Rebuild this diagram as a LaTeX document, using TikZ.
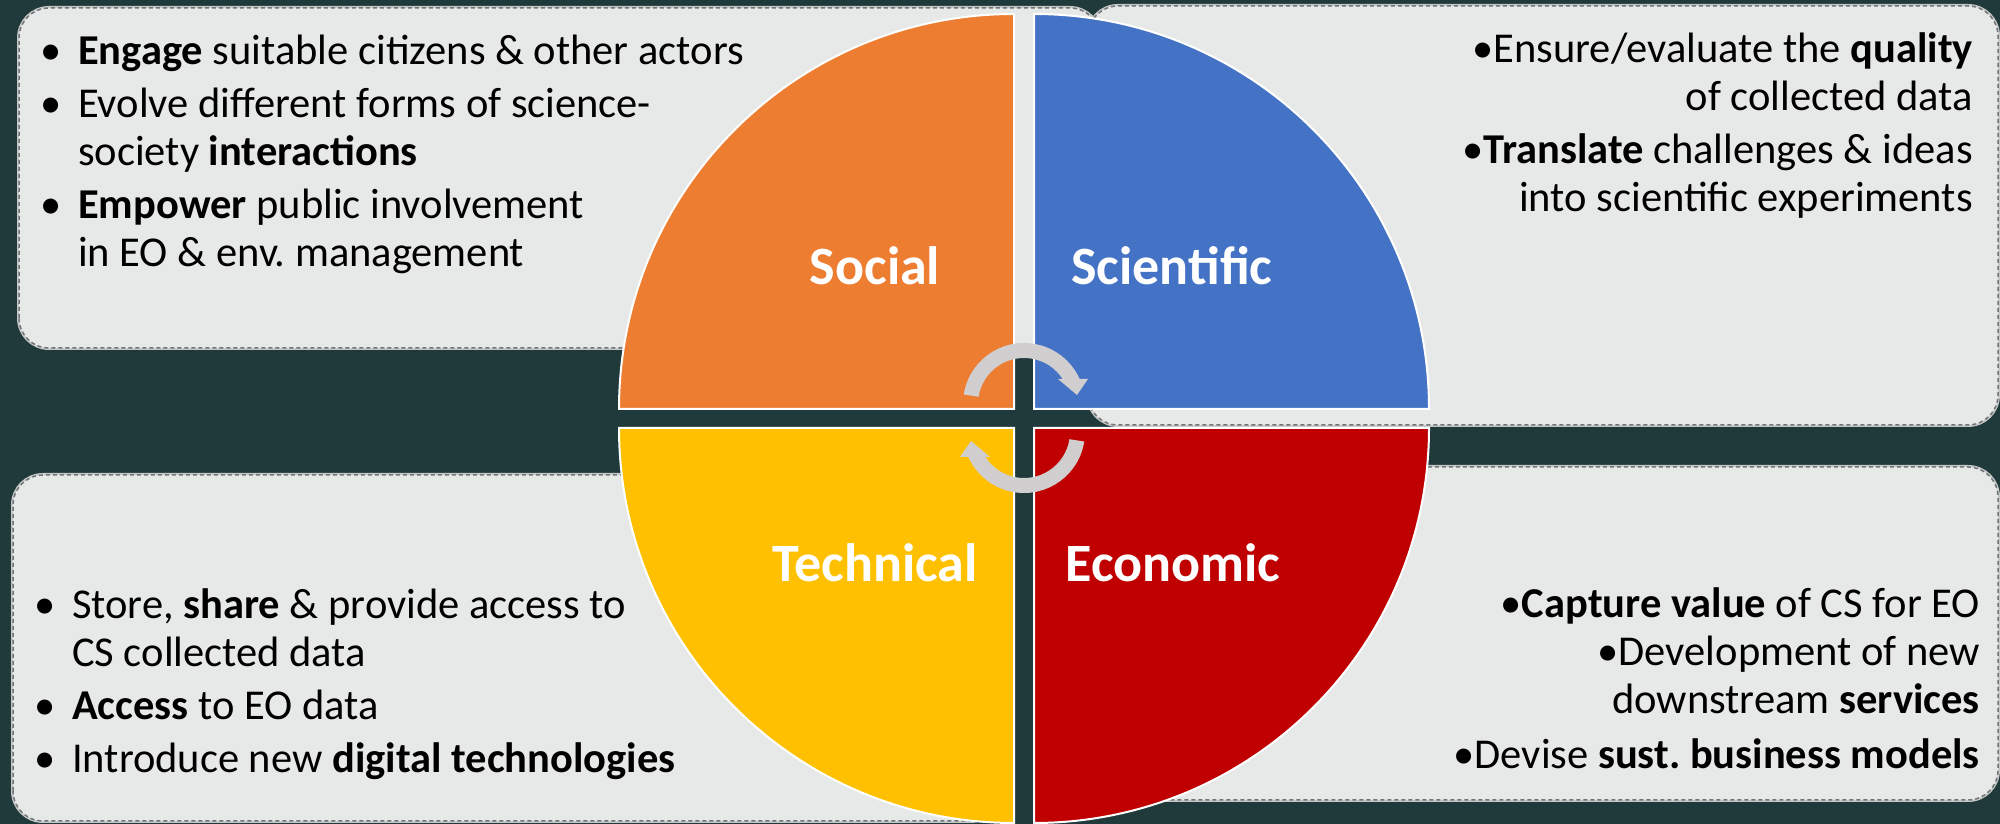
\documentclass[tikz,border=0pt]{standalone}
\usepackage{fontspec}
\setmainfont{Carlito}
\frenchspacing

\definecolor{bgdark}{RGB}{32,57,58}
\definecolor{boxfill}{RGB}{231,232,232}
\definecolor{boxline}{RGB}{110,118,118}
\definecolor{socialcol}{RGB}{237,125,49}
\definecolor{scicol}{RGB}{68,114,196}
\definecolor{techcol}{RGB}{255,192,0}
\definecolor{ecocol}{RGB}{192,0,0}
\definecolor{cyclecol}{RGB}{208,206,206}

\newcommand{\bul}{\makebox[38pt][l]{•}}
\newcommand{\ind}{\hspace*{38pt}}

\tikzset{
  infobox/.style={fill=boxfill, draw=boxline, line width=1.5pt,
    dash pattern=on 4pt off 3pt, rounded corners=30pt,
    preaction={draw=black!22, line width=4pt, solid}},
  sector/.style={draw=white, line width=2pt},
  sectorlabel/.style={text=white, inner sep=0pt, anchor=base,
    font=\fontsize{54}{60}\selectfont\bfseries},
  lefttext/.style={align=left, inner sep=0pt, anchor=base west,
    font=\fontsize{42.5}{48}\selectfont},
  righttext/.style={align=right, inner sep=0pt, anchor=base east,
    font=\fontsize{42.5}{48}\selectfont},
  cyclearrow/.style={fill=cyclecol},
}

\begin{document}
\begin{tikzpicture}[x=1pt,y=1pt]

\useasboundingbox (0,0) rectangle (2000,824);
\fill[bgdark] (0,0) rectangle (2000,824);

% Box: Social
\draw[infobox] (19,476) rectangle (1100,816);
% Box: Scientific
\draw[infobox] (1088,399) rectangle (1998,818);
% Box: Technical
\draw[infobox] (13,3) rectangle (1000,349);
% Box: Economic
\draw[infobox] (1060,24) rectangle (1998,357);

% Sectors
\fill[socialcol, sector] (1014,415) -- ++(-395,0) arc[start angle=180, end angle=90, radius=395] -- cycle;
\fill[scicol, sector] (1034,415) -- ++(0,395) arc[start angle=90, end angle=0, radius=395] -- cycle;
\fill[techcol, sector] (1014,396) -- ++(-395,0) arc[start angle=180, end angle=270, radius=395] -- cycle;
\fill[ecocol, sector] (1034,396) -- ++(395,0) arc[start angle=0, end angle=-90, radius=395] -- cycle;

% Sector labels
\node[sectorlabel] (social) at (875,539) {Social};
\node[sectorlabel] (scientific) at (1172,539) {Scientific};
\node[sectorlabel] (technical) at (875,242) {Technical};
\node[sectorlabel] (economic) at (1173,242) {Economic};

% Cycle arrows
\coordinate (hub) at (1024,406);
\foreach \turn in {0,180} {
  \fill[cyclearrow, rotate around={\turn:(hub)}] (963.75,429.54)
    arc[start angle=171, end angle=24.2, radius=61] -- (1088,445) -- (1077,429)
    -- (1058,445) -- (1062.6,445) arc[start angle=32.9, end angle=171, radius=46] -- cycle;
}

% Box texts (anchored at the baseline of the last line)
\node[lefttext] (socialtxt) at (40,557) {%
  \bul\textbf{Engage} suitable citizens \& other actors\\[5pt]
  \bul Evolve different forms of science-\\
  \ind society \textbf{interactions}\\[5pt]
  \bul\textbf{Empower} public involvement\\
  \ind in EO \& env. management};

\node[righttext] (scitxt) at (1973,612) {%
  •Ensure/evaluate the \textbf{quality}\\
  of collected data\\[5pt]
  •\textbf{Translate} challenges \& ideas\\
  into scientific experiments};

\node[lefttext] (techtxt) at (34,51) {%
  \bul Store, \textbf{share} \& provide access to\\
  \ind CS collected data\\[5pt]
  \bul\textbf{Access} to EO data\\[5pt]
  \bul Introduce new \textbf{digital technologies}};

\node[righttext] (ecotxt) at (1980,55) {%
  •\textbf{Capture value} of CS for EO\\
  •Development of new\\
  downstream \textbf{services}\\[7pt]
  •Devise \textbf{sust. business models}};

\end{tikzpicture}
\end{document}
